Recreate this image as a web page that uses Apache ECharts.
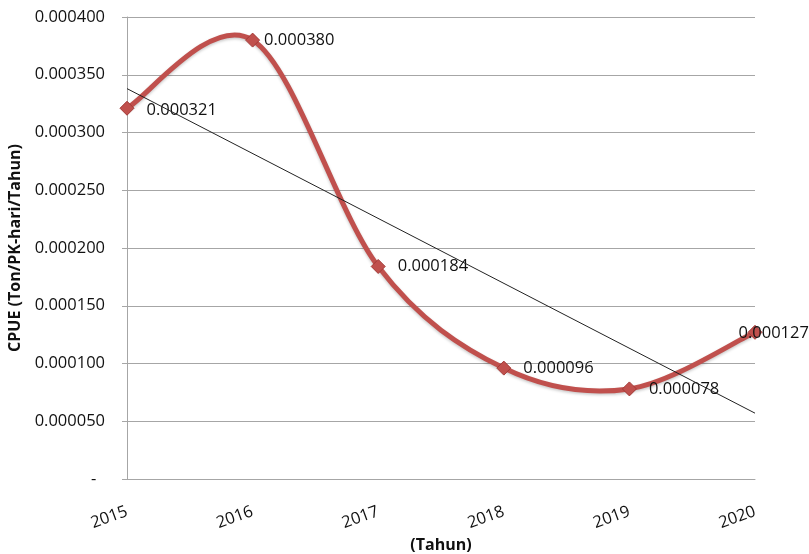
<!DOCTYPE html>
<html>
<head>
<meta charset="utf-8">
<script src="https://cdn.jsdelivr.net/npm/echarts@6/dist/echarts.min.js"></script>
<style>
  html, body { margin: 0; padding: 0; background: #ffffff; }
  #chart { width: 809px; height: 554px; }
</style>
</head>
<body>
<div id="chart"></div>
<script>
// CPUE per year
const years = ['2015', '2016', '2017', '2018', '2019', '2020'];
const cpue = [0.000321, 0.000380, 0.000184, 0.000096, 0.000078, 0.000127];
// linear trend line, value at first and last year
const trendEnds = [0.000338, 0.000057];
const yTicks = { min: 0, max: 0.0004, step: 0.00005 };

const FONT = '"Open Sans", "Noto Sans", sans-serif';
const RED = '#C0504D';

const trendData = years.map((y, i) =>
  i === 0 ? trendEnds[0] : (i === years.length - 1 ? trendEnds[1] : '-'));

const labelFor = (i) => {
  if (i === 0) return { offset: [0, 2] };
  if (i === 1) return { offset: [-8, 0] };
  if (i === years.length - 1) return { offset: [-36, 1] };
  return {};
};

// Smoothed curve through the data points (cardinal spline drawn as cubic Bezier segments)
function renderCurve(params, api) {
  if (params.dataIndex !== 0) return null;
  const pts = cpue.map((v, i) => api.coord([i, v]));
  const n = pts.length;
  const children = [];
  for (let i = 0; i < n - 1; i++) {
    const p0 = pts[Math.max(i - 1, 0)];
    const p1 = pts[i];
    const p2 = pts[i + 1];
    const p3 = pts[Math.min(i + 2, n - 1)];
    children.push({
      type: 'bezierCurve',
      shape: {
        x1: p1[0], y1: p1[1],
        cpx1: p1[0] + (p2[0] - p0[0]) / 6, cpy1: p1[1] + (p2[1] - p0[1]) / 6,
        cpx2: p2[0] - (p3[0] - p1[0]) / 6, cpy2: p2[1] - (p3[1] - p1[1]) / 6,
        x2: p2[0], y2: p2[1]
      },
      style: {
        stroke: RED, lineWidth: 5, fill: null, lineCap: 'round',
        shadowColor: 'rgba(0,0,0,0.22)', shadowBlur: 3, shadowOffsetY: 1.5
      }
    });
  }
  return { type: 'group', children };
}

const chart = echarts.init(document.getElementById('chart'), null, { renderer: 'canvas' });
chart.setOption({
  animation: false,
  backgroundColor: '#ffffff',
  grid: { left: 127, right: 54, top: 17, bottom: 75, containLabel: false, outerBoundsMode: 'none' },
  xAxis: {
    type: 'category',
    data: years,
    boundaryGap: false,
    name: '(Tahun)',
    nameLocation: 'middle',
    nameGap: 58,
    nameTextStyle: { fontFamily: FONT, fontSize: 16, fontWeight: 'bold', color: '#111' },
    axisLine: { show: true, lineStyle: { color: '#a6a6a6', width: 1 } },
    axisTick: { show: false },
    axisLabel: { rotate: 20, margin: 32, fontFamily: FONT, fontSize: 16.5, color: '#111' },
    splitLine: { show: false }
  },
  yAxis: {
    type: 'value',
    min: yTicks.min,
    max: yTicks.max,
    interval: yTicks.step,
    name: 'CPUE (Ton/PK-hari/Tahun)',
    nameLocation: 'middle',
    nameGap: 95,
    nameRotate: 90,
    nameTextStyle: { fontFamily: FONT, fontSize: 16, fontWeight: 'bold', color: '#111' },
    axisLine: { show: true, lineStyle: { color: '#a6a6a6', width: 1 } },
    axisTick: { show: true, inside: false, length: 5, lineStyle: { color: '#a6a6a6' } },
    axisLabel: {
      margin: 22,
      fontFamily: FONT,
      fontSize: 16.5,
      color: '#111',
      formatter: (v) => (v === 0 ? '-  ' : v.toFixed(6))
    },
    splitLine: { show: true, lineStyle: { color: '#a6a6a6', width: 1 } }
  },
  series: [
    {
      name: 'CPUE curve',
      type: 'custom',
      renderItem: renderCurve,
      data: cpue.map((v, i) => [i, v]),
      encode: { x: 0, y: 1 },
      silent: true,
      z: 2
    },
    {
      name: 'CPUE',
      type: 'line',
      data: cpue.map((v, i) => ({ value: v, label: labelFor(i) })),
      symbol: 'diamond',
      symbolSize: 14,
      itemStyle: { color: RED, borderColor: '#a33a37', borderWidth: 1 },
      lineStyle: { width: 0, opacity: 0 },
      label: {
        show: true,
        position: 'right',
        distance: 12,
        fontFamily: FONT,
        fontSize: 16.5,
        color: '#111',
        formatter: (p) => p.value.toFixed(6)
      },
      z: 3
    },
    {
      name: 'Trend',
      type: 'line',
      data: trendData,
      connectNulls: true,
      symbol: 'none',
      lineStyle: { color: '#222', width: 1 },
      z: 4,
      silent: true
    }
  ]
});
</script>
</body>
</html>
